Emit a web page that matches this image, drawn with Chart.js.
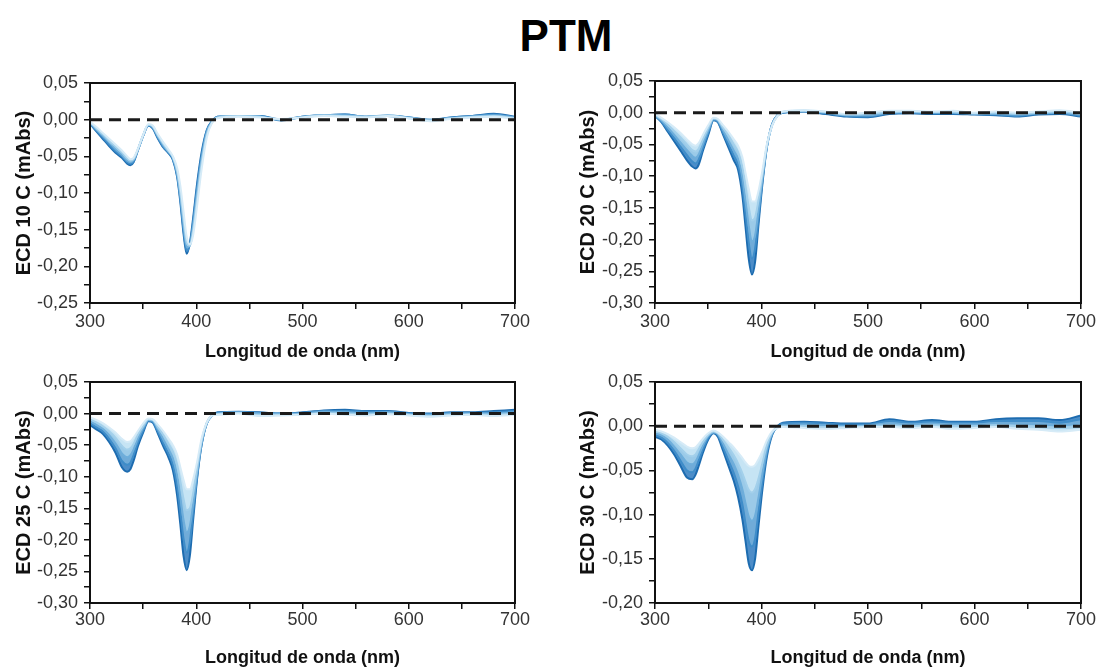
<!DOCTYPE html>
<html>
<head>
<meta charset="utf-8">
<script src="https://cdn.jsdelivr.net/npm/chart.js@4.4.1/dist/chart.umd.min.js"></script>
<style>
  body { margin: 0; width: 1098px; height: 670px; background: #fff; position: relative; overflow: hidden; font-family: 'Liberation Sans', Arial, sans-serif; }
  #title { position: absolute; left: 0; width: 1132px; top: 11px; text-align: center; font-weight: bold; font-size: 44px; color: #000; }
  .panel { position: absolute; }
</style>
</head>
<body>
<div id="title">PTM</div>
<div class="panel" style="left:0;top:60px"><canvas id="c10" width="545" height="320"></canvas></div>
<div class="panel" style="left:555px;top:60px"><canvas id="c20" width="543" height="320"></canvas></div>
<div class="panel" style="left:0;top:355px"><canvas id="c25" width="545" height="315"></canvas></div>
<div class="panel" style="left:555px;top:355px"><canvas id="c30" width="543" height="315"></canvas></div>
<script>
// wavelength grid (nm)
const wavelengths = [300, 306, 312, 318, 324, 330, 335, 338, 341, 345, 350, 355, 359, 364, 369, 374, 378, 382, 385, 388, 391, 394, 397, 401, 405, 410, 415,
  420, 440, 460, 480, 500, 520, 540, 560, 580, 600, 620, 640, 660, 680, 700]

// each panel: spectra from first (lightest) to last (darkest)
const ecd10 = [
  [-0.003, -0.010, -0.018, -0.026, -0.034, -0.042, -0.050, -0.054, -0.052, -0.040, -0.021, -0.006, -0.008, -0.020, -0.031, -0.041, -0.050, -0.066, -0.090, -0.125, -0.160, -0.170, -0.158, -0.115, -0.068, -0.024, -0.004,
    0.002, 0.004, 0.003, 0.001, 0.003, 0.005, 0.004, 0.003, 0.005, 0.002, -0.002, 0.001, 0.003, 0.004, 0.001],
  [-0.003, -0.012, -0.020, -0.029, -0.037, -0.045, -0.053, -0.056, -0.054, -0.041, -0.021, -0.007, -0.009, -0.022, -0.033, -0.043, -0.051, -0.070, -0.098, -0.135, -0.168, -0.172, -0.152, -0.105, -0.060, -0.020, -0.003,
    0.003, 0.005, 0.004, 0.000, 0.003, 0.006, 0.005, 0.004, 0.005, 0.002, -0.001, 0.002, 0.004, 0.005, 0.002],
  [-0.004, -0.013, -0.022, -0.031, -0.040, -0.048, -0.056, -0.058, -0.055, -0.041, -0.022, -0.007, -0.010, -0.023, -0.035, -0.044, -0.052, -0.073, -0.104, -0.143, -0.174, -0.171, -0.146, -0.097, -0.054, -0.017, -0.003,
    0.003, 0.005, 0.004, 0.000, 0.004, 0.006, 0.006, 0.004, 0.006, 0.003, 0.000, 0.002, 0.004, 0.006, 0.003],
  [-0.005, -0.015, -0.024, -0.034, -0.043, -0.050, -0.058, -0.060, -0.057, -0.042, -0.022, -0.008, -0.011, -0.025, -0.037, -0.045, -0.054, -0.076, -0.108, -0.150, -0.179, -0.170, -0.140, -0.090, -0.049, -0.015, -0.002,
    0.004, 0.005, 0.005, 0.000, 0.004, 0.006, 0.007, 0.004, 0.005, 0.003, 0.000, 0.003, 0.005, 0.007, 0.003],
  [-0.005, -0.016, -0.026, -0.036, -0.045, -0.052, -0.060, -0.062, -0.058, -0.042, -0.022, -0.008, -0.012, -0.026, -0.038, -0.046, -0.055, -0.078, -0.112, -0.155, -0.183, -0.168, -0.135, -0.085, -0.045, -0.014, -0.002,
    0.004, 0.005, 0.005, -0.001, 0.004, 0.006, 0.007, 0.004, 0.005, 0.003, -0.001, 0.003, 0.005, 0.008, 0.004]
]

const ecd20 = [
  [-0.002, -0.008, -0.015, -0.023, -0.032, -0.042, -0.050, -0.052, -0.048, -0.035, -0.020, -0.008, -0.010, -0.020, -0.030, -0.042, -0.052, -0.070, -0.095, -0.120, -0.140, -0.140, -0.125, -0.090, -0.050, -0.020, -0.005,
    0.002, 0.004, 0.002, -0.002, 0.000, 0.003, 0.003, 0.002, 0.003, 0.000, 0.002, 0.000, 0.002, 0.004, 0.000],
  [-0.003, -0.010, -0.019, -0.029, -0.039, -0.050, -0.059, -0.061, -0.057, -0.042, -0.024, -0.009, -0.011, -0.024, -0.036, -0.050, -0.062, -0.085, -0.116, -0.148, -0.170, -0.165, -0.140, -0.097, -0.052, -0.020, -0.005,
    0.001, 0.003, 0.001, -0.003, -0.002, 0.001, 0.002, 0.001, 0.001, -0.001, 0.000, -0.002, 0.000, 0.002, -0.002],
  [-0.004, -0.012, -0.023, -0.035, -0.047, -0.059, -0.068, -0.071, -0.066, -0.049, -0.028, -0.010, -0.012, -0.028, -0.044, -0.060, -0.073, -0.101, -0.140, -0.178, -0.203, -0.193, -0.157, -0.102, -0.054, -0.019, -0.004,
    0.001, 0.003, 0.000, -0.004, -0.004, 0.000, 0.001, 0.000, 0.000, -0.002, -0.002, -0.003, -0.001, 0.000, -0.003],
  [-0.005, -0.014, -0.027, -0.040, -0.054, -0.067, -0.077, -0.080, -0.074, -0.055, -0.032, -0.011, -0.014, -0.032, -0.050, -0.068, -0.082, -0.116, -0.160, -0.205, -0.230, -0.214, -0.170, -0.106, -0.055, -0.018, -0.004,
    0.000, 0.002, -0.001, -0.005, -0.006, -0.001, 0.000, -0.001, -0.001, -0.002, -0.003, -0.005, -0.002, -0.001, -0.005],
  [-0.005, -0.015, -0.030, -0.045, -0.060, -0.075, -0.085, -0.088, -0.082, -0.060, -0.035, -0.012, -0.015, -0.035, -0.055, -0.075, -0.090, -0.130, -0.180, -0.230, -0.255, -0.235, -0.180, -0.110, -0.055, -0.018, -0.004,
    0.000, 0.002, -0.002, -0.006, -0.007, -0.002, -0.001, -0.002, -0.002, -0.003, -0.004, -0.006, -0.003, -0.002, -0.006]
]

const ecd25 = [
  [-0.006, -0.010, -0.015, -0.022, -0.030, -0.040, -0.045, -0.044, -0.038, -0.028, -0.016, -0.008, -0.009, -0.018, -0.028, -0.040, -0.050, -0.065, -0.085, -0.105, -0.120, -0.120, -0.105, -0.075, -0.040, -0.014, -0.003,
    -0.002, 0.000, -0.004, -0.003, -0.002, 0.000, -0.002, -0.003, -0.001, -0.003, -0.005, -0.003, -0.002, -0.004, -0.002],
  [-0.009, -0.014, -0.020, -0.028, -0.038, -0.051, -0.057, -0.055, -0.048, -0.034, -0.020, -0.009, -0.010, -0.022, -0.034, -0.048, -0.060, -0.081, -0.107, -0.135, -0.153, -0.150, -0.127, -0.085, -0.044, -0.014, -0.003,
    -0.001, 0.001, -0.002, -0.002, -0.001, 0.001, 0.000, -0.001, 0.000, -0.002, -0.004, -0.002, -0.001, -0.002, 0.000],
  [-0.012, -0.018, -0.024, -0.034, -0.047, -0.063, -0.069, -0.066, -0.057, -0.040, -0.023, -0.010, -0.011, -0.025, -0.041, -0.057, -0.071, -0.098, -0.132, -0.168, -0.188, -0.178, -0.145, -0.092, -0.047, -0.015, -0.003,
    0.000, 0.002, 0.000, -0.001, 0.000, 0.003, 0.002, 0.001, 0.002, -0.001, -0.002, 0.000, 0.000, 0.000, 0.002],
  [-0.015, -0.022, -0.028, -0.040, -0.055, -0.075, -0.081, -0.078, -0.066, -0.046, -0.027, -0.011, -0.013, -0.029, -0.047, -0.064, -0.081, -0.115, -0.155, -0.198, -0.220, -0.203, -0.158, -0.097, -0.049, -0.015, -0.003,
    0.001, 0.002, 0.001, 0.000, 0.001, 0.004, 0.004, 0.003, 0.003, 0.000, -0.001, 0.001, 0.001, 0.002, 0.004],
  [-0.018, -0.025, -0.032, -0.045, -0.062, -0.085, -0.092, -0.088, -0.075, -0.052, -0.030, -0.012, -0.014, -0.032, -0.052, -0.070, -0.090, -0.130, -0.175, -0.225, -0.248, -0.225, -0.170, -0.100, -0.050, -0.015, -0.003,
    0.002, 0.003, 0.002, 0.000, 0.002, 0.005, 0.006, 0.004, 0.004, 0.001, 0.000, 0.002, 0.002, 0.004, 0.006]
]

const ecd30 = [
  [-0.004, -0.006, -0.009, -0.013, -0.018, -0.023, -0.025, -0.024, -0.020, -0.014, -0.008, -0.005, -0.007, -0.012, -0.018, -0.024, -0.030, -0.036, -0.041, -0.045, -0.046, -0.044, -0.038, -0.028, -0.016, -0.006, -0.002,
    -0.001, -0.002, -0.003, -0.002, -0.001, -0.001, -0.002, -0.001, -0.003, -0.002, -0.001, -0.003, -0.004, -0.006, -0.004],
  [-0.006, -0.008, -0.012, -0.018, -0.025, -0.032, -0.034, -0.032, -0.026, -0.018, -0.010, -0.006, -0.008, -0.016, -0.024, -0.033, -0.042, -0.053, -0.063, -0.072, -0.075, -0.071, -0.060, -0.041, -0.022, -0.007, -0.001,
    0.000, 0.000, -0.001, -0.001, 0.000, 0.001, 0.000, 0.001, 0.000, 0.000, 0.001, 0.000, -0.001, -0.002, -0.001],
  [-0.008, -0.010, -0.015, -0.023, -0.032, -0.041, -0.043, -0.040, -0.033, -0.022, -0.011, -0.007, -0.009, -0.020, -0.032, -0.043, -0.055, -0.071, -0.087, -0.102, -0.107, -0.101, -0.082, -0.053, -0.027, -0.008, -0.001,
    0.001, 0.002, 0.001, 0.000, 0.001, 0.003, 0.002, 0.003, 0.002, 0.002, 0.003, 0.003, 0.002, 0.001, 0.003],
  [-0.010, -0.013, -0.019, -0.028, -0.039, -0.050, -0.052, -0.048, -0.039, -0.026, -0.013, -0.007, -0.010, -0.024, -0.039, -0.053, -0.068, -0.088, -0.110, -0.130, -0.136, -0.127, -0.099, -0.062, -0.031, -0.009, 0.000,
    0.003, 0.004, 0.003, 0.002, 0.002, 0.006, 0.004, 0.005, 0.004, 0.004, 0.006, 0.006, 0.006, 0.004, 0.008],
  [-0.012, -0.015, -0.022, -0.032, -0.045, -0.058, -0.060, -0.055, -0.045, -0.030, -0.015, -0.008, -0.012, -0.028, -0.045, -0.062, -0.080, -0.105, -0.130, -0.155, -0.163, -0.150, -0.115, -0.070, -0.035, -0.010, 0.000,
    0.004, 0.005, 0.004, 0.003, 0.003, 0.008, 0.005, 0.007, 0.005, 0.005, 0.008, 0.009, 0.009, 0.007, 0.012]
]

const yTitles = ['ECD 10 C (mAbs)', 'ECD 20 C (mAbs)', 'ECD 25 C (mAbs)', 'ECD 30 C (mAbs)']
const yMins = [-0.25, -0.30, -0.30, -0.20]
const yMax = 0.05
const xRange = [300, 700]
const zeroLine = [0, 0]
const xTitle = 'Longitud de onda (nm)'

const lineColors = ['#d6ebf7', '#a3d0eb', '#6eaedb', '#3f8dc9', '#1d6cb0']
const fillColors = ['rgba(0,0,0,0)', 'rgba(192,225,243,0.9)', 'rgba(144,196,230,0.9)', 'rgba(96,162,212,0.9)', 'rgba(58,129,194,0.9)']

const FONT = "'Liberation Sans', Arial, sans-serif"

const frame = {
  id: 'frame',
  afterDraw (chart) {
    const { ctx, chartArea: a } = chart
    ctx.save()
    ctx.strokeStyle = '#111'
    ctx.lineWidth = 2
    ctx.strokeRect(a.left, a.top, a.right - a.left, a.bottom - a.top)
    ctx.restore()
  }
}

const fmt = (v) => (Math.abs(v) < 1e-9 ? '0,00' : v.toFixed(2).replace('.', ','))

const makeChart = (p) => {
  const datasets = p.data.map((vals, i) => ({
    data: vals.map((y, k) => ({ x: wavelengths[k], y })),
    borderColor: lineColors[i],
    backgroundColor: fillColors[i],
    borderWidth: 2,
    pointRadius: 0,
    cubicInterpolationMode: 'monotone',
    fill: i === 0 ? false : '-1'
  }))
  datasets.push({
    data: zeroLine.map((y, k) => ({ x: xRange[k], y })),
    borderColor: '#1a1a1a',
    borderWidth: 3,
    borderDash: [12, 7],
    pointRadius: 0,
    fill: false,
    order: -1
  })

  new Chart(document.getElementById(p.id), {
    type: 'line',
    data: { datasets },
    plugins: [frame],
    options: {
      responsive: false,
      animation: false,
      layout: { padding: { left: p.pl, top: p.pt, right: p.pr, bottom: p.pb } },
      plugins: { legend: { display: false }, tooltip: { enabled: false } },
      scales: {
        x: {
          type: 'linear',
          min: xRange[0],
          max: xRange[1],
          afterFit: (s) => { s.height = p.xh },
          border: { display: false },
          grid: { drawOnChartArea: false, drawTicks: true, tickLength: 6, color: '#111', lineWidth: 1.5 },
          ticks: {
            stepSize: 50,
            autoSkip: false,
            maxRotation: 0,
            padding: p.xpad,
            color: '#333',
            font: { family: FONT, size: 18 },
            callback: (v) => (v % 100 === 0 ? String(v) : '')
          },
          title: { display: true, text: xTitle, color: '#111', padding: 0, font: { family: FONT, size: 18, weight: 'bold' } }
        },
        y: {
          min: p.min,
          max: yMax,
          afterFit: (s) => { s.width = p.yw },
          border: { display: false },
          grid: { drawOnChartArea: false, drawTicks: true, tickLength: 6, color: '#111', lineWidth: 1.5 },
          ticks: {
            stepSize: 0.025,
            autoSkip: false,
            padding: 6,
            color: '#333',
            font: { family: FONT, size: 18 },
            callback: (v) => (Math.abs(Math.round(v * 1000)) % 50 === 0 ? fmt(v) : '')
          },
          title: { display: true, text: p.title, color: '#111', padding: 0, font: { family: FONT, size: 20, weight: 'bold' } }
        }
      }
    }
  })
}

const panels = [
  { id: 'c10', data: ecd10, title: yTitles[0], min: yMins[0], pl: 12, pt: 23, pr: 30, pb: 17, yw: 78, xh: 60, xpad: 2 },
  { id: 'c20', data: ecd20, title: yTitles[1], min: yMins[1], pl: 21, pt: 21, pr: 17, pb: 17, yw: 79, xh: 60, xpad: 2 },
  { id: 'c25', data: ecd25, title: yTitles[2], min: yMins[2], pl: 12, pt: 27, pr: 30, pb: 1, yw: 78, xh: 66, xpad: 0 },
  { id: 'c30', data: ecd30, title: yTitles[3], min: yMins[3], pl: 21, pt: 27, pr: 17, pb: 1, yw: 79, xh: 66, xpad: 0 }
]

panels.forEach(makeChart)
</script>
</body>
</html>
